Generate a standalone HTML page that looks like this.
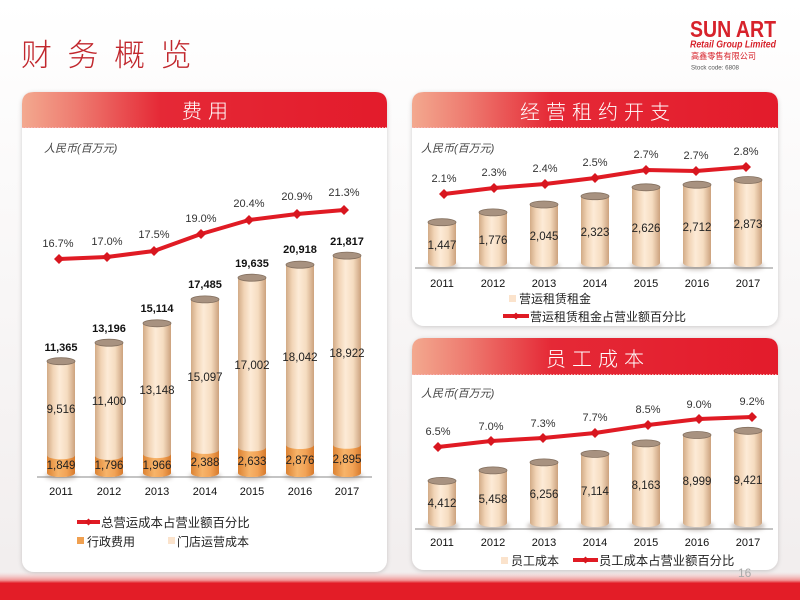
<!DOCTYPE html>
<html><head><meta charset="utf-8">
<style>
html,body{margin:0;padding:0;width:800px;height:600px;overflow:hidden;background:#fff;}
svg{display:block;}
text{font-family:"Liberation Sans","Noto Sans CJK SC",sans-serif;}
.n{font-size:11.5px;fill:#222;text-anchor:middle;}
.p{font-size:11px;fill:#333;text-anchor:middle;}
.y{font-size:11px;fill:#111;text-anchor:middle;}
.t{font-size:11px;fill:#111;text-anchor:middle;font-weight:bold;}
.u{font-size:11px;fill:#444;font-style:italic;}
.lg{font-size:12px;fill:#222;}
.h{font-size:20px;fill:#fff;text-anchor:middle;letter-spacing:6px;font-weight:300;}
</style></head>
<body>
<svg width="800" height="600" viewBox="0 0 800 600" xmlns="http://www.w3.org/2000/svg">
<defs>
 <linearGradient id="bg" x1="0" y1="0" x2="0" y2="1">
  <stop offset="0" stop-color="#ffffff"/><stop offset="0.5" stop-color="#f8f6f6"/><stop offset="1" stop-color="#f1eded"/>
 </linearGradient>
 <linearGradient id="hdr" x1="0" y1="0" x2="1" y2="0">
  <stop offset="0" stop-color="#f3a98f"/><stop offset="0.15" stop-color="#ee7b70"/><stop offset="0.38" stop-color="#e52936"/><stop offset="1" stop-color="#e31b2b"/>
 </linearGradient>
 <linearGradient id="body" x1="0" y1="0" x2="1" y2="0">
  <stop offset="0" stop-color="#d2ab86"/><stop offset="0.22" stop-color="#f1d4b6"/><stop offset="0.45" stop-color="#fdebd7"/><stop offset="0.72" stop-color="#f5dcc0"/><stop offset="1" stop-color="#cca27e"/>
 </linearGradient>
 <linearGradient id="org" x1="0" y1="0" x2="1" y2="0">
  <stop offset="0" stop-color="#dc8232"/><stop offset="0.4" stop-color="#f7b46a"/><stop offset="0.7" stop-color="#f2a356"/><stop offset="1" stop-color="#d77a2c"/>
 </linearGradient>
 <linearGradient id="band" x1="0" y1="0" x2="0" y2="1">
  <stop offset="0" stop-color="#f7c9c9" stop-opacity="0"/><stop offset="0.3" stop-color="#f09090"/><stop offset="0.4" stop-color="#e31d27"/><stop offset="1" stop-color="#e31d27"/>
 </linearGradient>
 <filter id="blur" x="-50%" y="-50%" width="200%" height="200%"><feGaussianBlur stdDeviation="2"/></filter>
 <filter id="ps" x="-5%" y="-5%" width="110%" height="110%"><feDropShadow dx="0" dy="1" stdDeviation="2.5" flood-color="#000" flood-opacity="0.18"/></filter>
 <path id="dm" d="M0 -5 L5 0 L0 5 L-5 0Z" fill="#d8161f"/>
</defs>

<rect x="0" y="0" width="800" height="600" fill="url(#bg)"/>

<!-- Title -->
<text x="21" y="66" style="font-size:31px;fill:#c1272d;letter-spacing:15.5px;font-weight:300;font-family:'Liberation Sans','Noto Sans CJK SC',sans-serif;">财务概览</text>

<!-- Logo -->
<text x="690" y="37" textLength="86" lengthAdjust="spacingAndGlyphs" style="font-size:23.5px;font-weight:bold;fill:#d7222b;">SUN ART</text>
<text x="690" y="47.5" textLength="86" lengthAdjust="spacingAndGlyphs" style="font-size:10px;font-weight:bold;font-style:italic;fill:#d7222b;">Retail Group Limited</text>
<text x="691" y="59" textLength="65" lengthAdjust="spacingAndGlyphs" style="font-size:8.5px;fill:#d7222b;">高鑫零售有限公司</text>
<text x="691" y="69.5" textLength="48" lengthAdjust="spacingAndGlyphs" style="font-size:6.5px;fill:#555;">Stock code: 6808</text>

<!-- Panels -->
<rect x="22" y="92" width="365" height="480" rx="12" fill="#fff" filter="url(#ps)"/>
<path d="M22 128 V104 Q22 92 34 92 H375 Q387 92 387 104 V128 Z" fill="url(#hdr)"/>
<line x1="22" y1="127.5" x2="387" y2="127.5" stroke="#f8b4b4" stroke-width="1" stroke-dasharray="1.5 1.5"/>
<text class="h" x="208" y="118">费用</text>

<rect x="412" y="92" width="366" height="234" rx="12" fill="#fff" filter="url(#ps)"/>
<path d="M412 128 V104 Q412 92 424 92 H766 Q778 92 778 104 V128 Z" fill="url(#hdr)"/>
<line x1="412" y1="127.5" x2="778" y2="127.5" stroke="#f8b4b4" stroke-width="1" stroke-dasharray="1.5 1.5"/>
<text class="h" x="598" y="119">经营租约开支</text>

<rect x="412" y="338" width="366" height="232" rx="12" fill="#fff" filter="url(#ps)"/>
<path d="M412 375 V350 Q412 338 424 338 H766 Q778 338 778 350 V375 Z" fill="url(#hdr)"/>
<line x1="412" y1="374.5" x2="778" y2="374.5" stroke="#f8b4b4" stroke-width="1" stroke-dasharray="1.5 1.5"/>
<text class="h" x="598" y="366">员工成本</text>

<!-- Bottom band -->
<rect x="0" y="572" width="800" height="28" fill="url(#band)"/>
<text x="738" y="577" style="font-size:12px;fill:#aaa;">16</text>

<!-- ================= LEFT CHART ================= -->
<text class="u" x="44" y="152">人民币(百万元)</text>
<line x1="37" y1="477" x2="372" y2="477" stroke="#b0b0b0" stroke-width="1.5"/>

<g>
<g filter="url(#blur)" fill="#8a7a70" opacity="0.45">
<ellipse cx="61" cy="476" rx="16" ry="4"/><ellipse cx="109" cy="476" rx="16" ry="4"/><ellipse cx="157" cy="476" rx="16" ry="4"/><ellipse cx="205" cy="476" rx="16" ry="4"/><ellipse cx="252" cy="476" rx="16" ry="4"/><ellipse cx="300" cy="476" rx="16" ry="4"/><ellipse cx="347" cy="476" rx="16" ry="4"/>
</g>
<path d="M47 361.2 V473 A14 4 0 0 0 75 473 V361.2Z" fill="url(#body)"/>
<path d="M95 342.7 V473 A14 4 0 0 0 123 473 V342.7Z" fill="url(#body)"/>
<path d="M143 323.3 V473 A14 4 0 0 0 171 473 V323.3Z" fill="url(#body)"/>
<path d="M191 299.4 V473 A14 4 0 0 0 219 473 V299.4Z" fill="url(#body)"/>
<path d="M238 277.7 V473 A14 4 0 0 0 266 473 V277.7Z" fill="url(#body)"/>
<path d="M286 264.7 V473 A14 4 0 0 0 314 473 V264.7Z" fill="url(#body)"/>
<path d="M333 255.6 V473 A14 4 0 0 0 361 473 V255.6Z" fill="url(#body)"/>
<path d="M47 455.3 A14 4 0 0 0 75 455.3 V473 A14 4 0 0 1 47 473Z" fill="url(#org)"/>
<path d="M95 455.9 A14 4 0 0 0 123 455.9 V473 A14 4 0 0 1 95 473Z" fill="url(#org)"/>
<path d="M143 454.1 A14 4 0 0 0 171 454.1 V473 A14 4 0 0 1 143 473Z" fill="url(#org)"/>
<path d="M191 449.9 A14 4 0 0 0 219 449.9 V473 A14 4 0 0 1 191 473Z" fill="url(#org)"/>
<path d="M238 447.4 A14 4 0 0 0 266 447.4 V473 A14 4 0 0 1 238 473Z" fill="url(#org)"/>
<path d="M286 445 A14 4 0 0 0 314 445 V473 A14 4 0 0 1 286 473Z" fill="url(#org)"/>
<path d="M333 444.8 A14 4 0 0 0 361 444.8 V473 A14 4 0 0 1 333 473Z" fill="url(#org)"/>
<g fill="#a89280" stroke="#84705f" stroke-width="0.8">
<ellipse cx="61" cy="361.2" rx="14" ry="3.5"/><ellipse cx="109" cy="342.7" rx="14" ry="3.5"/><ellipse cx="157" cy="323.3" rx="14" ry="3.5"/><ellipse cx="205" cy="299.4" rx="14" ry="3.5"/><ellipse cx="252" cy="277.7" rx="14" ry="3.5"/><ellipse cx="300" cy="264.7" rx="14" ry="3.5"/><ellipse cx="347" cy="255.6" rx="14" ry="3.5"/>
</g>
</g>
<text class="t" x="61" y="351">11,365</text>
<text class="t" x="109" y="332">13,196</text>
<text class="t" x="157" y="312">15,114</text>
<text class="t" x="205" y="288">17,485</text>
<text class="t" x="252" y="267">19,635</text>
<text class="t" x="300" y="253">20,918</text>
<text class="t" x="347" y="245">21,817</text>
<text class="n" x="61" y="413">9,516</text>
<text class="n" x="109" y="405">11,400</text>
<text class="n" x="157" y="394">13,148</text>
<text class="n" x="205" y="381">15,097</text>
<text class="n" x="252" y="369">17,002</text>
<text class="n" x="300" y="361">18,042</text>
<text class="n" x="347" y="357">18,922</text>
<text class="n" x="61" y="469">1,849</text>
<text class="n" x="109" y="469">1,796</text>
<text class="n" x="157" y="469">1,966</text>
<text class="n" x="205" y="466">2,388</text>
<text class="n" x="252" y="465">2,633</text>
<text class="n" x="300" y="464">2,876</text>
<text class="n" x="347" y="463">2,895</text>
<path d="M59 259 L107 257 L154 251 L201 234 L249 220 L297 214 L344 210" fill="none" stroke="#e01b24" stroke-width="4" stroke-linejoin="round"/>
<use href="#dm" x="59" y="259"/><use href="#dm" x="107" y="257"/><use href="#dm" x="154" y="251"/><use href="#dm" x="201" y="234"/><use href="#dm" x="249" y="220"/><use href="#dm" x="297" y="214"/><use href="#dm" x="344" y="210"/>
<text class="p" x="58" y="247">16.7%</text>
<text class="p" x="107" y="245">17.0%</text>
<text class="p" x="154" y="238">17.5%</text>
<text class="p" x="201" y="222">19.0%</text>
<text class="p" x="249" y="207">20.4%</text>
<text class="p" x="297" y="200">20.9%</text>
<text class="p" x="344" y="196">21.3%</text>
<text class="y" x="61" y="495">2011</text><text class="y" x="109" y="495">2012</text><text class="y" x="157" y="495">2013</text><text class="y" x="205" y="495">2014</text><text class="y" x="252" y="495">2015</text><text class="y" x="300" y="495">2016</text><text class="y" x="347" y="495">2017</text>
<line x1="77" y1="522" x2="100" y2="522" stroke="#e01b24" stroke-width="4"/>
<path d="M88.5 518.5 L92 522 L88.5 525.5 L85 522Z" fill="#d8161f"/>
<text class="lg" x="101" y="527" style="font-size:12.4px;">总营运成本占营业额百分比</text>
<rect x="77" y="537" width="7" height="7" fill="#f0a050"/>
<text class="lg" x="87" y="546">行政费用</text>
<rect x="168" y="537" width="7" height="7" fill="#fbe3cc"/>
<text class="lg" x="177" y="546">门店运营成本</text>

<!-- ================= RIGHT TOP ================= -->
<text class="u" x="421" y="152">人民币(百万元)</text>
<line x1="415" y1="268" x2="773" y2="268" stroke="#b0b0b0" stroke-width="1.5"/>
<g filter="url(#blur)" fill="#8a7a70" opacity="0.45">
<ellipse cx="442" cy="266" rx="16" ry="4"/><ellipse cx="493" cy="266" rx="16" ry="4"/><ellipse cx="544" cy="266" rx="16" ry="4"/><ellipse cx="595" cy="266" rx="16" ry="4"/><ellipse cx="646" cy="266" rx="16" ry="4"/><ellipse cx="697" cy="266" rx="16" ry="4"/><ellipse cx="748" cy="266" rx="16" ry="4"/>
</g>
<path d="M428 222.2 V263 A14 4 0 0 0 456 263 V222.2Z" fill="url(#body)"/>
<path d="M479 212.4 V263 A14 4 0 0 0 507 263 V212.4Z" fill="url(#body)"/>
<path d="M530 204.5 V263 A14 4 0 0 0 558 263 V204.5Z" fill="url(#body)"/>
<path d="M581 196.2 V263 A14 4 0 0 0 609 263 V196.2Z" fill="url(#body)"/>
<path d="M632 187.3 V263 A14 4 0 0 0 660 263 V187.3Z" fill="url(#body)"/>
<path d="M683 184.7 V263 A14 4 0 0 0 711 263 V184.7Z" fill="url(#body)"/>
<path d="M734 180 V263 A14 4 0 0 0 762 263 V180Z" fill="url(#body)"/>
<g fill="#a89280" stroke="#84705f" stroke-width="0.8">
<ellipse cx="442" cy="222.2" rx="14" ry="3.5"/><ellipse cx="493" cy="212.4" rx="14" ry="3.5"/><ellipse cx="544" cy="204.5" rx="14" ry="3.5"/><ellipse cx="595" cy="196.2" rx="14" ry="3.5"/><ellipse cx="646" cy="187.3" rx="14" ry="3.5"/><ellipse cx="697" cy="184.7" rx="14" ry="3.5"/><ellipse cx="748" cy="180" rx="14" ry="3.5"/>
</g>
<text class="n" x="442" y="249">1,447</text>
<text class="n" x="493" y="244">1,776</text>
<text class="n" x="544" y="240">2,045</text>
<text class="n" x="595" y="236">2,323</text>
<text class="n" x="646" y="232">2,626</text>
<text class="n" x="697" y="231">2,712</text>
<text class="n" x="748" y="228">2,873</text>
<path d="M444 194 L494 188 L545 184 L595 178 L646 170 L696 171 L746 167" fill="none" stroke="#e01b24" stroke-width="4" stroke-linejoin="round"/>
<use href="#dm" x="444" y="194"/><use href="#dm" x="494" y="188"/><use href="#dm" x="545" y="184"/><use href="#dm" x="595" y="178"/><use href="#dm" x="646" y="170"/><use href="#dm" x="696" y="171"/><use href="#dm" x="746" y="167"/>
<text class="p" x="444" y="182">2.1%</text>
<text class="p" x="494" y="176">2.3%</text>
<text class="p" x="545" y="172">2.4%</text>
<text class="p" x="595" y="166">2.5%</text>
<text class="p" x="646" y="158">2.7%</text>
<text class="p" x="696" y="159">2.7%</text>
<text class="p" x="746" y="155">2.8%</text>
<text class="y" x="442" y="287">2011</text><text class="y" x="493" y="287">2012</text><text class="y" x="544" y="287">2013</text><text class="y" x="595" y="287">2014</text><text class="y" x="646" y="287">2015</text><text class="y" x="697" y="287">2016</text><text class="y" x="748" y="287">2017</text>
<rect x="509" y="295" width="7" height="7" fill="#fbe3cc"/>
<text class="lg" x="519" y="303">营运租赁租金</text>
<line x1="503" y1="316" x2="529" y2="316" stroke="#e01b24" stroke-width="4"/>
<path d="M516 312.5 L519.5 316 L516 319.5 L512.5 316Z" fill="#d8161f"/>
<text class="lg" x="530" y="321">营运租赁租金占营业额百分比</text>

<!-- ================= RIGHT BOTTOM ================= -->
<text class="u" x="421" y="397">人民币(百万元)</text>
<line x1="415" y1="529" x2="773" y2="529" stroke="#b0b0b0" stroke-width="1.5"/>
<g filter="url(#blur)" fill="#8a7a70" opacity="0.5">
<ellipse cx="442" cy="526" rx="17" ry="4.5"/><ellipse cx="493" cy="526" rx="17" ry="4.5"/><ellipse cx="544" cy="526" rx="17" ry="4.5"/><ellipse cx="595" cy="526" rx="17" ry="4.5"/><ellipse cx="646" cy="526" rx="17" ry="4.5"/><ellipse cx="697" cy="526" rx="17" ry="4.5"/><ellipse cx="748" cy="526" rx="17" ry="4.5"/>
</g>
<path d="M428 480.9 V523 A14 4 0 0 0 456 523 V480.9Z" fill="url(#body)"/>
<path d="M479 470.4 V523 A14 4 0 0 0 507 523 V470.4Z" fill="url(#body)"/>
<path d="M530 462.4 V523 A14 4 0 0 0 558 523 V462.4Z" fill="url(#body)"/>
<path d="M581 453.9 V523 A14 4 0 0 0 609 523 V453.9Z" fill="url(#body)"/>
<path d="M632 443.4 V523 A14 4 0 0 0 660 523 V443.4Z" fill="url(#body)"/>
<path d="M683 435 V523 A14 4 0 0 0 711 523 V435Z" fill="url(#body)"/>
<path d="M734 430.8 V523 A14 4 0 0 0 762 523 V430.8Z" fill="url(#body)"/>
<g fill="#a89280" stroke="#84705f" stroke-width="0.8">
<ellipse cx="442" cy="480.9" rx="14" ry="3.5"/><ellipse cx="493" cy="470.4" rx="14" ry="3.5"/><ellipse cx="544" cy="462.4" rx="14" ry="3.5"/><ellipse cx="595" cy="453.9" rx="14" ry="3.5"/><ellipse cx="646" cy="443.4" rx="14" ry="3.5"/><ellipse cx="697" cy="435" rx="14" ry="3.5"/><ellipse cx="748" cy="430.8" rx="14" ry="3.5"/>
</g>
<text class="n" x="442" y="507">4,412</text>
<text class="n" x="493" y="503">5,458</text>
<text class="n" x="544" y="498">6,256</text>
<text class="n" x="595" y="495">7,114</text>
<text class="n" x="646" y="489">8,163</text>
<text class="n" x="697" y="485">8,999</text>
<text class="n" x="748" y="484">9,421</text>
<path d="M438 447 L491 441 L543 438 L595 433 L648 425 L699 419 L752 417" fill="none" stroke="#e01b24" stroke-width="4" stroke-linejoin="round"/>
<use href="#dm" x="438" y="447"/><use href="#dm" x="491" y="441"/><use href="#dm" x="543" y="438"/><use href="#dm" x="595" y="433"/><use href="#dm" x="648" y="425"/><use href="#dm" x="699" y="419"/><use href="#dm" x="752" y="417"/>
<text class="p" x="438" y="435">6.5%</text>
<text class="p" x="491" y="430">7.0%</text>
<text class="p" x="543" y="427">7.3%</text>
<text class="p" x="595" y="421">7.7%</text>
<text class="p" x="648" y="413">8.5%</text>
<text class="p" x="699" y="408">9.0%</text>
<text class="p" x="752" y="405">9.2%</text>
<text class="y" x="442" y="546">2011</text><text class="y" x="493" y="546">2012</text><text class="y" x="544" y="546">2013</text><text class="y" x="595" y="546">2014</text><text class="y" x="646" y="546">2015</text><text class="y" x="697" y="546">2016</text><text class="y" x="748" y="546">2017</text>
<rect x="501" y="557" width="7" height="7" fill="#fbe3cc"/>
<text class="lg" x="511" y="565">员工成本</text>
<line x1="573" y1="560" x2="598" y2="560" stroke="#e01b24" stroke-width="4"/>
<path d="M585.5 556.5 L589 560 L585.5 563.5 L582 560Z" fill="#d8161f"/>
<text class="lg" x="599" y="565" style="font-size:12.3px;">员工成本占营业额百分比</text>
</svg>
</body></html>
